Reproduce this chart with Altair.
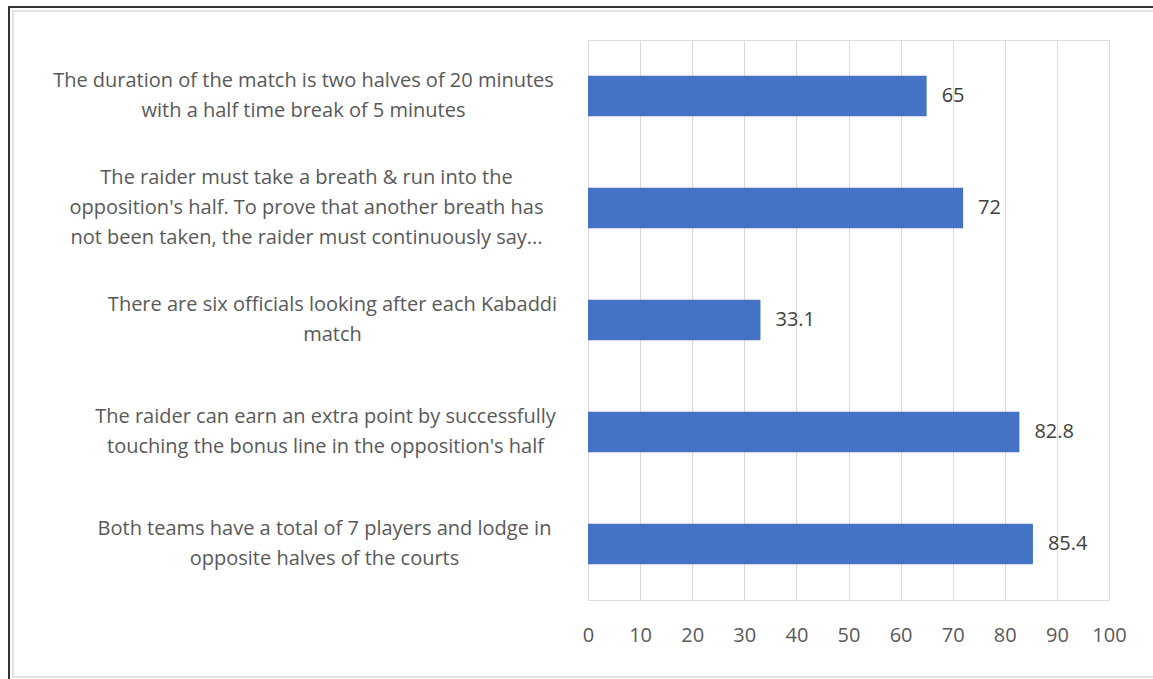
import altair as alt
import pandas as pd

labels = [
    "The duration of the match is two halves of 20 minutes|with a half time break of 5 minutes",
    "The raider must take a breath & run into the|opposition's half. To prove that another breath has|not been taken, the raider must continuously say...",
    "There are six officials looking after each Kabaddi|match",
    "The raider can earn an extra point by successfully|touching the bonus line in the opposition's half",
    "Both teams have a total of 7 players and lodge in|opposite halves of the courts",
]
values = [65, 72, 33.1, 82.8, 85.4]
value_text = ["65", "72", "33.1", "82.8", "85.4"]
x_ticks = [0, 10, 20, 30, 40, 50, 60, 70, 80, 90, 100]

df = pd.DataFrame({"label": labels, "value": values, "txt": value_text})

FONT = "Open Sans"
FS = 20

label_pad = {
    "condition": [
        {"test": "indexof(datum.value, 'duration') >= 0", "value": 285},
        {"test": "indexof(datum.value, 'breath') >= 0", "value": 282},
        {"test": "indexof(datum.value, 'officials') >= 0", "value": 256},
        {"test": "indexof(datum.value, 'extra point') >= 0", "value": 263},
    ],
    "value": 264,
}
label_off = {
    "condition": {"test": "length(split(datum.value, '|')) > 2", "value": -30},
    "value": -15,
}

y_enc = alt.Y(
    "label:N",
    sort=None,
    title=None,
    scale=alt.Scale(paddingInner=0.64, paddingOuter=0.32),
    axis=alt.Axis(
        labelExpr="split(datum.label, '|')",
        labelAlign="center",
        labelBaseline="middle",
        labelPadding=label_pad,
        labelOffset=label_off,
        ticks=False,
        tickSize=0,
        domain=False,
        labelLimit=0,
        labelOverlap=False,
        labelFont=FONT,
        labelFontSize=FS,
        labelLineHeight=30,
        labelColor="#595959",
    ),
)

x_enc = alt.X(
    "value:Q",
    title=None,
    scale=alt.Scale(domain=[0, 100], nice=False),
    axis=alt.Axis(
        values=x_ticks,
        domain=False,
        ticks=False,
        grid=True,
        gridColor="#d9d9d9",
        gridWidth=1,
        labelPadding=25,
        labelFlush=False,
        labelFont=FONT,
        labelFontSize=FS,
        labelColor="#595959",
    ),
)

base = alt.Chart(df)
bars = base.mark_bar(color="#4472C4").encode(x=x_enc, y=y_enc)
texts = base.mark_text(
    align="left", baseline="middle", dx=15, font=FONT, fontSize=FS, color="#404040"
).encode(x="value:Q", y=alt.Y("label:N", sort=None), text="txt:N")

frame_df = pd.DataFrame({"k": [0]})
frame_outer = alt.Chart(frame_df).mark_rect(
    fill=None, stroke="#333333", strokeWidth=2
).encode(
    x=alt.value(-579), x2=alt.value(620), y=alt.value(-33), y2=alt.value(660)
)
frame_inner = alt.Chart(frame_df).mark_rect(
    fill=None, stroke="#d9d9d9", strokeWidth=1.5
).encode(
    x=alt.value(-575), x2=alt.value(610), y=alt.value(-29), y2=alt.value(637)
)

chart = (
    alt.layer(frame_outer, frame_inner, bars, texts)
    .properties(
        width=521,
        height=560,
        padding={"left": 588, "top": 40, "right": 44, "bottom": 79},
        autosize=alt.AutoSizeParams(type="none"),
    )
    .configure_view(stroke=None)
    .configure(background="white")
)

chart.save("out.html", embed_options={"renderer": "svg", "actions": False})
